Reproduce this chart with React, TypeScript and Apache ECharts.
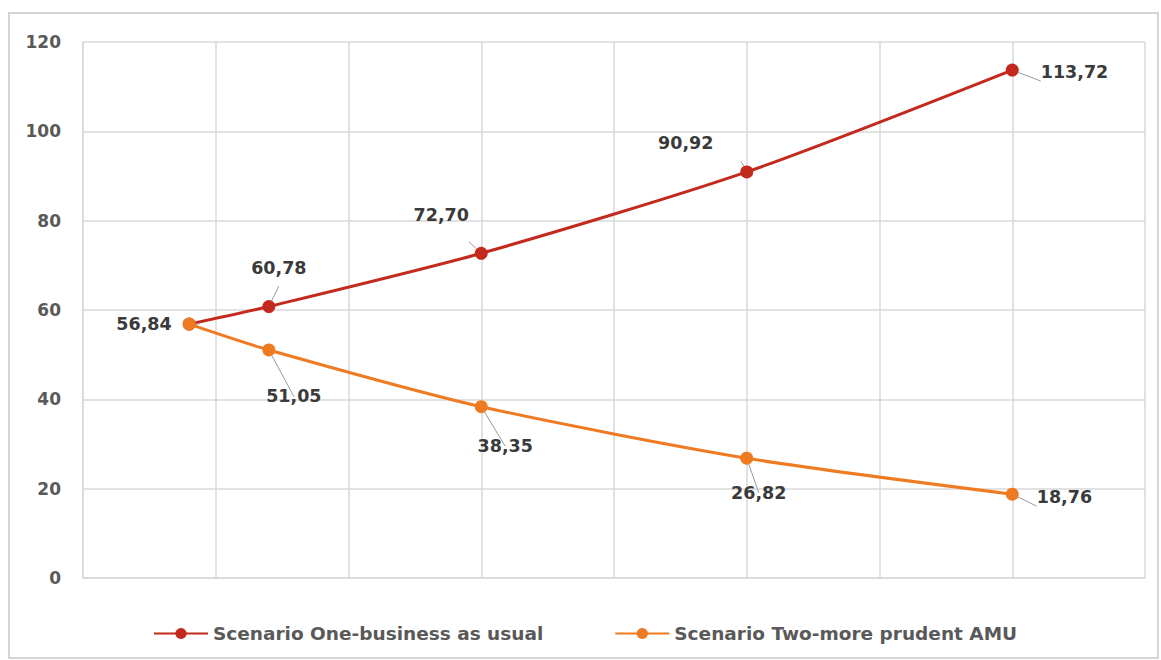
import React, { useEffect, useRef } from "react";
import * as echarts from "echarts";

const years = [2019, 2022, 2030, 2040, 2050];
const scenarioOne = [56.84, 60.78, 72.7, 90.92, 113.72];
const scenarioTwo = [56.84, 51.05, 38.35, 26.82, 18.76];
const seriesNames = ["Scenario One-business as usual", "Scenario Two-more prudent AMU"];
const yTicks = [0, 20, 40, 60, 80, 100, 120];

const FONT = "'DejaVu Sans', 'Open Sans', sans-serif";
const RED = "#C4291D";
const ORANGE = "#EE7A22";
const GRID = "#D9D9D9";

const fmt = (v: number) => v.toFixed(2).replace(".", ",");

// label placement per point (style only)
const oneLabels: any[] = [
  { position: "left", offset: [-6, 0] },
  { position: "top", offset: [10, -18] },
  { position: "top", offset: [-40, -18] },
  { position: "top", offset: [-61, -8] },
  { position: "right", offset: [17, 2] },
];
const twoLabels: any[] = [
  null,
  { position: "bottom", offset: [25, 26] },
  { position: "bottom", offset: [24, 19] },
  { position: "bottom", offset: [12, 14] },
  { position: "right", offset: [13, 3] },
];

function buildData(vals: number[], labels: any[]) {
  return vals.map((v, i) => ({
    value: [years[i], v],
    label: labels[i]
      ? { show: true, ...labels[i] }
      : { show: false },
  }));
}

export default function App() {
  const ref = useRef<HTMLDivElement>(null);
  useEffect(() => {
    if (!ref.current) return;
    const chart = echarts.init(ref.current, null, { renderer: "svg" });
    const labelStyle = {
      formatter: (p: any) => fmt(p.value[1]),
      color: "#3A3A3A",
      fontFamily: FONT,
      fontWeight: "bold" as const,
      fontSize: 17.5,
    };
    const labelLine = { show: true, lineStyle: { color: "#9A9A9A", width: 1 } };
    chart.setOption({
      animation: false,
      backgroundColor: "#fff",
      graphic: [
        {
          type: "rect",
          shape: { x: 9, y: 13, width: 1149, height: 645 },
          style: { fill: "none", stroke: "#D4D4D4", lineWidth: 2 },
          silent: true,
        },
      ],
      grid: { left: 83, right: 16, top: 42, bottom: 82 },
      xAxis: {
        type: "value",
        min: 2015,
        max: 2055,
        interval: 5,
        axisLabel: { show: false },
        axisTick: { show: false },
        axisLine: { show: true, lineStyle: { color: GRID, width: 1.5 } },
        splitLine: { show: true, lineStyle: { color: GRID, width: 1.5 } },
      },
      yAxis: {
        type: "value",
        min: yTicks[0],
        max: yTicks[yTicks.length - 1],
        interval: 20,
        axisLabel: {
          color: "#595959",
          fontFamily: FONT,
          fontWeight: "bold",
          fontSize: 17,
          margin: 22,
        },
        axisTick: { show: false },
        axisLine: { show: true, lineStyle: { color: GRID, width: 1.5 } },
        splitLine: { show: true, lineStyle: { color: GRID, width: 1.5 } },
      },
      legend: {
        left: 148,
        top: 619,
        itemWidth: 54,
        itemHeight: 14,
        itemGap: 71,
        textStyle: {
          color: "#595959",
          fontFamily: FONT,
          fontWeight: "bold",
          fontSize: 18.5,
        },
        data: seriesNames,
      },
      series: [
        {
          name: seriesNames[0],
          type: "line",
          smooth: 0.25,
          symbol: "circle",
          symbolSize: 13,
          color: RED,
          lineStyle: { width: 3, color: RED },
          itemStyle: { color: RED },
          label: { ...labelStyle },
          labelLine,
          data: buildData(scenarioOne, oneLabels),
          z: 2,
        },
        {
          name: seriesNames[1],
          type: "line",
          smooth: 0.25,
          symbol: "circle",
          symbolSize: 13,
          color: ORANGE,
          lineStyle: { width: 3, color: ORANGE },
          itemStyle: { color: ORANGE },
          label: { ...labelStyle },
          labelLine,
          data: buildData(scenarioTwo, twoLabels),
          z: 3,
        },
      ],
    });
    return () => chart.dispose();
  }, []);
  return (
    <div
      ref={ref}
      style={{ position: "absolute", left: 0, top: 0, width: 1161, height: 660 }}
    />
  );
}
